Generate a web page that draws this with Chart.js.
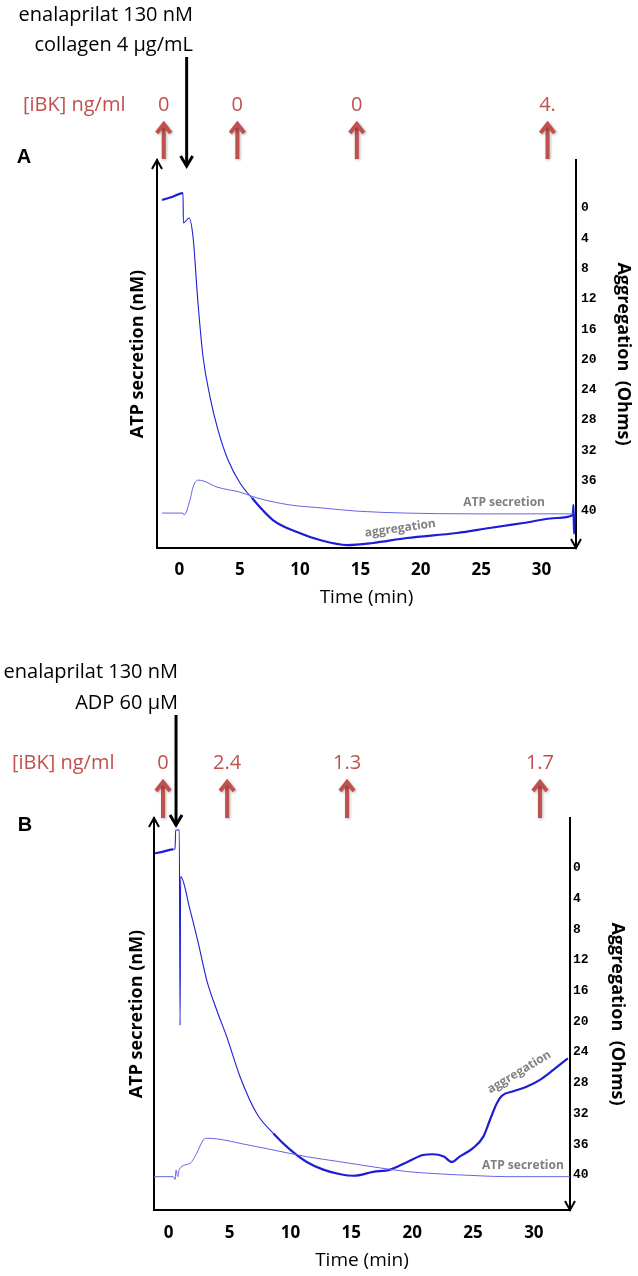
<!DOCTYPE html>
<html>
<head>
<meta charset="utf-8">
<script src="https://cdn.jsdelivr.net/npm/chart.js@4.4.1/dist/chart.umd.min.js"></script>
<style>
  html, body { margin: 0; padding: 0; background: #fff; }
  #wrap { position: relative; width: 638px; height: 1276px; }
  canvas { position: absolute; left: 0; }
  #chartA { top: 0; }
  #chartB { top: 640px; }
</style>
</head>
<body>
<div id="wrap">
  <canvas id="chartA" width="638" height="640"></canvas>
  <canvas id="chartB" width="638" height="636"></canvas>
</div>
<script>
// shared ticks
const timeTicks = [0, 5, 10, 15, 20, 25, 30];
const ohmTicks = [0, 4, 8, 12, 16, 20, 24, 28, 32, 36, 40];

// panel A : collagen
const aggTimeA = [-1.44, -0.61, 0.30, 0.33, 0.80, 1.13, 1.54, 1.96, 2.54, 3.20, 4.03, 5.02, 6.01, 7.75, 9.74, 11.65, 13.9, 16.0, 18.85, 23.0, 25.7, 28.5, 31.3, 32.6, 32.65, 32.7, 32.75];
const aggOhmA = [-1.06, -1.45, -1.98, 1.98, 1.32, 3.83, 12.54, 19.67, 24.95, 29.31, 33.27, 36.3, 38.28, 41.19, 42.77, 43.83, 44.49, 44.22, 43.56, 42.9, 42.24, 41.58, 40.92, 40.53, 39.2, 43.0, 40.5];
const atpTimeA = [-1.44, 0.30, 0.38, 0.88, 1.13, 1.54, 1.96, 3.12, 5.02, 6.43, 9.16, 11.9, 14.7, 18.85, 24.3, 32.6];
const atpValA = [9.0, 9.0, 8.5, 12.4, 15.7, 17.5, 17.3, 15.7, 14.4, 12.9, 11.1, 10.3, 9.5, 9.0, 8.8, 8.8];
const addTimeA = 0.6;
const sampleTimeA = [-1.3, 4.8, 14.7, 30.5];
const iBKA = ['0', '0', '0', '4.'];

// panel B : ADP
const aggTimeB = [-1.12, -0.44, 0.38, 0.52, 0.57, 0.87, 0.93, 0.98, 1.75, 2.43, 3.12, 3.94, 4.77, 5.86, 7.23, 8.6, 9.97, 11.34, 12.7, 14.1, 15.2, 16.8, 18.2, 19.6, 20.9, 21.7, 22.6, 23.25, 23.9, 25.0, 25.85, 26.4, 26.95, 27.36, 28.3, 29.4, 30.5, 31.6, 32.8];
const aggOhmB = [-1.91, -2.13, -2.43, -2.43, -4.95, -4.95, 20.5, 1.13, 5.47, 9.8, 14.6, 18.5, 22.0, 27.2, 32.0, 34.6, 36.7, 38.3, 39.3, 39.9, 40.1, 39.6, 39.3, 38.3, 37.4, 37.3, 37.6, 38.3, 37.6, 36.5, 35.0, 32.8, 30.7, 29.7, 29.1, 28.5, 27.6, 26.3, 24.8];
const atpTimeB = [-1.21, 0.38, 0.52, 0.6, 0.74, 0.87, 1.75, 2.3, 2.84, 3.12, 4.49, 5.86, 8.6, 11.34, 14.1, 16.8, 19.6, 22.3, 25.0, 27.8, 32.97];
const atpValB = [8.5, 8.5, 7.8, 10.2, 8.5, 10.4, 11.9, 14.5, 17.9, 18.3, 17.9, 17.0, 15.3, 13.6, 12.3, 11.0, 9.8, 9.2, 8.8, 8.5, 8.5];
const addTimeB = 0.6;
const sampleTimeB = [-0.47, 4.8, 14.65, 30.5];
const iBKB = ['0', '2.4', '1.3', '1.7'];

const RED = '#c0504d';
const AGG_COLOR = '#1d1dd6';
const ATP_COLOR = '#6464e6';
const SANS = '"Open Sans"';

function chevron(ctx, x, y, down, w, h) {
    const s = down ? -1 : 1;
    ctx.beginPath();
    ctx.moveTo(x - w, y + s * h);
    ctx.lineTo(x, y);
    ctx.lineTo(x + w, y + s * h);
    ctx.stroke();
}

function decor(p) {
    return {
        id: 'decor',
        afterDraw(chart) {
            const ctx = chart.ctx;
            const xs = chart.scales.x;
            const ys = chart.scales.yAgg;
            const area = chart.chartArea;
            ctx.save();

            // axis arrow heads
            ctx.strokeStyle = '#000';
            ctx.lineWidth = 2;
            chevron(ctx, area.left, area.top, false, 5, 9);
            chevron(ctx, area.right, area.bottom, true, 5, 9);

            // agonist text and arrow
            ctx.fillStyle = '#000';
            ctx.font = '20px ' + SANS;
            ctx.textAlign = 'right';
            ctx.textBaseline = 'middle';
            p.drugs.forEach((s, i) => ctx.fillText(s, p.drugRight, p.drugY[i]));
            const ax = xs.getPixelForValue(p.addTime);
            ctx.lineWidth = 3;
            ctx.beginPath();
            ctx.moveTo(ax, p.addTop);
            ctx.lineTo(ax, p.addTip - 2);
            ctx.stroke();
            chevron(ctx, ax, p.addTip, true, 6, 10);

            // iBK samples
            ctx.fillStyle = RED;
            ctx.textAlign = 'left';
            ctx.fillText('[iBK] ng/ml', p.ibkX, p.ibkY);
            ctx.textAlign = 'center';
            p.samples.forEach((t, i) => {
                const sx = xs.getPixelForValue(t);
                ctx.fillStyle = RED;
                ctx.fillText(p.labels[i], sx, p.ibkY);
                ctx.save();
                ctx.shadowColor = 'rgba(0,0,0,0.3)';
                ctx.shadowBlur = 3;
                ctx.shadowOffsetX = 1;
                ctx.shadowOffsetY = 1;
                ctx.strokeStyle = RED;
                ctx.lineWidth = 4;
                ctx.beginPath();
                ctx.moveTo(sx, p.redBottom);
                ctx.lineTo(sx, p.redTip + 2);
                ctx.stroke();
                chevron(ctx, sx, p.redTip, false, 7, 9);
                ctx.restore();
            });

            // panel letter
            ctx.fillStyle = '#000';
            ctx.font = 'bold 20px "Liberation Sans"';
            ctx.fillText(p.letter, p.letterX, p.letterY);

            // curve labels
            ctx.fillStyle = '#808080';
            ctx.font = 'bold 12px ' + SANS;
            p.curveLabels.forEach(l => {
                ctx.save();
                ctx.translate(xs.getPixelForValue(l.t), ys.getPixelForValue(l.v));
                ctx.rotate(l.rot * Math.PI / 180);
                ctx.fillText(l.text, 0, 0);
                ctx.restore();
            });
            ctx.restore();
        }
    };
}

function makeChart(id, c) {
    const thick = 2.2, thin = 1.1;
    new Chart(document.getElementById(id), {
        type: 'line',
        data: {
            datasets: [{
                label: 'ATP secretion',
                data: c.atpT.map((t, i) => ({x: t, y: c.atpV[i]})),
                yAxisID: 'yAtp',
                borderColor: ATP_COLOR,
                borderWidth: 1,
                pointRadius: 0,
                cubicInterpolationMode: 'monotone'
            }, {
                label: 'aggregation',
                data: c.aggT.map((t, i) => ({x: t, y: c.aggV[i]})),
                yAxisID: 'yAgg',
                borderColor: AGG_COLOR,
                borderWidth: thick,
                pointRadius: 0,
                cubicInterpolationMode: 'monotone',
                segment: {
                    borderWidth: s => (s.p1.parsed.x <= c.thickBefore || s.p0.parsed.x >= c.thickAfter) ? thick : thin
                }
            }]
        },
        options: {
            responsive: false,
            animation: false,
            devicePixelRatio: 1,
            layout: {padding: {top: c.areaTop, left: 0, right: 0, bottom: 0}},
            plugins: {legend: {display: false}, tooltip: {enabled: false}},
            scales: {
                x: {
                    type: 'linear',
                    min: c.tMin,
                    max: c.tMax,
                    grid: {display: false, drawTicks: false},
                    border: {display: true, color: '#000', width: 2},
                    afterBuildTicks: s => { s.ticks = timeTicks.map(v => ({value: v})); },
                    ticks: {color: '#000', font: {family: SANS, size: 17, weight: 'bold'}, padding: c.xTickPad, maxRotation: 0, autoSkip: false},
                    title: {display: true, text: 'Time (min)', color: '#000', font: {family: SANS, size: 19}, padding: {top: 0, bottom: c.xTitlePad}},
                    afterFit: s => { s.height = c.xAxisH; }
                },
                yAtp: {
                    type: 'linear',
                    position: 'left',
                    min: 0,
                    max: 100,
                    grid: {display: false, drawTicks: false},
                    border: {display: true, color: '#000', width: 2},
                    ticks: {display: false},
                    title: {display: true, text: 'ATP secretion (nM)', color: '#000', font: {family: SANS, size: 18, weight: 'bold'}, padding: {top: c.leftTitlePad, bottom: 0}},
                    afterFit: s => { s.width = c.areaLeft; }
                },
                yAgg: {
                    type: 'linear',
                    position: 'right',
                    reverse: true,
                    min: c.oMin,
                    max: c.oMax,
                    grid: {display: false, drawTicks: false},
                    border: {display: true, color: '#000', width: 2},
                    afterBuildTicks: s => { s.ticks = ohmTicks.map(v => ({value: v})); },
                    ticks: {color: '#000', font: {family: '"Liberation Mono"', size: 13, weight: 'bold'}, padding: c.rTickPad, autoSkip: false},
                    title: {display: true, text: 'Aggregation  (Ohms)', color: '#000', font: {family: SANS, size: 18, weight: 'bold'}, padding: {top: c.rightTitlePad, bottom: 0}},
                    afterFit: s => { s.width = 638 - c.areaRight; }
                }
            }
        },
        plugins: [decor(c.decor)]
    });
}

makeChart('chartA', {
    aggT: aggTimeA, aggV: aggOhmA, atpT: atpTimeA, atpV: atpValA,
    thickBefore: 0.3, thickAfter: 6,
    areaTop: 160, areaLeft: 157, areaRight: 576, xAxisH: 92,
    tMin: -1.856, tMax: 32.86, oMin: -6.34, oMax: 44.88,
    xTickPad: 12, xTitlePad: 31, leftTitlePad: 127, rightTitlePad: 4, rTickPad: 5,
    decor: {
        drugs: ['enalaprilat 130 nM', 'collagen 4 μg/mL'], drugRight: 193, drugY: [15, 45],
        addTime: addTimeA, addTop: 57, addTip: 166,
        ibkX: 23, ibkY: 105, samples: sampleTimeA, labels: iBKA, redTip: 124, redBottom: 159,
        letter: 'A', letterX: 24, letterY: 157,
        curveLabels: [
            {text: 'ATP secretion', t: 26.9, v: 38.9, rot: 0},
            {text: 'aggregation', t: 18.3, v: 42.3, rot: -8}
        ]
    }
});

makeChart('chartB', {
    aggT: aggTimeB, aggV: aggOhmB, atpT: atpTimeB, atpV: atpValB,
    thickBefore: 0.45, thickAfter: 8,
    areaTop: 178, areaLeft: 154, areaRight: 570, xAxisH: 66,
    tMin: -1.21, tMax: 32.97, oMin: -6.51, oMax: 44.56,
    xTickPad: 13, xTitlePad: 4, leftTitlePad: 126, rightTitlePad: 10, rTickPad: 3,
    decor: {
        drugs: ['enalaprilat 130 nM', 'ADP 60 µM'], drugRight: 178, drugY: [32, 63],
        addTime: addTimeB, addTop: 75, addTip: 185,
        ibkX: 12, ibkY: 123, samples: sampleTimeB, labels: iBKB, redTip: 142, redBottom: 178,
        letter: 'B', letterX: 25, letterY: 185,
        curveLabels: [
            {text: 'aggregation', t: 28.8, v: 26.6, rot: -31},
            {text: 'ATP secretion', t: 29.1, v: 38.8, rot: 0}
        ]
    }
});
</script>
</body>
</html>
